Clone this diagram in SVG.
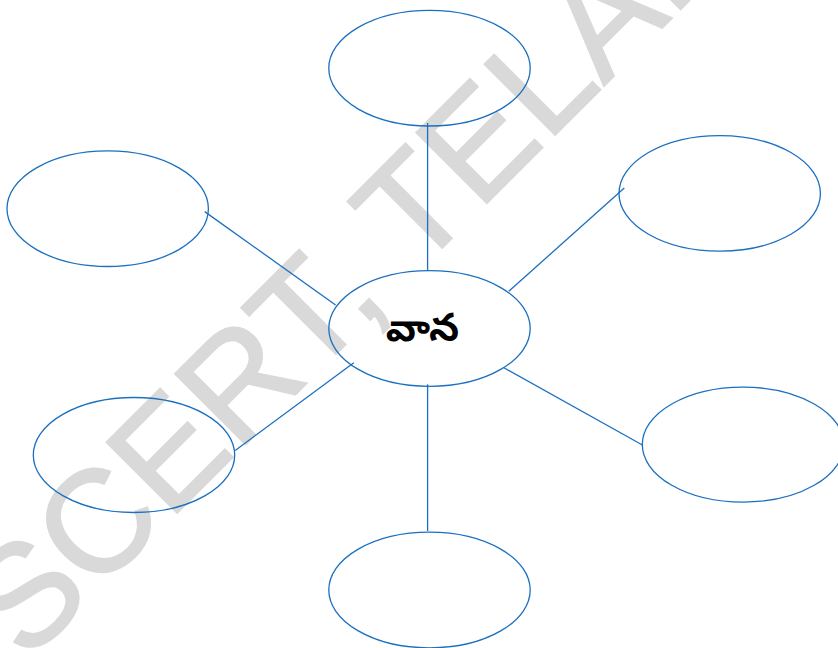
<svg xmlns="http://www.w3.org/2000/svg" width="838" height="648" viewBox="0 0 838 648">
<style>
.bg{fill:#ffffff}
.wm{font-family:"Liberation Sans",Arial,sans-serif;font-size:145px;fill:#d9d9d9;stroke:#d9d9d9;stroke-width:2}
.node ellipse{fill:none;stroke:#1b6fc0;stroke-width:1.3}
#connectors line{stroke:#1b6fc0;stroke-width:1.3}
.label{font-family:"Noto Sans Telugu","Noto Sans","Noto Sans CJK SC",sans-serif;font-size:39px;font-weight:bold;fill:#000;text-anchor:middle}
</style>
<rect class="bg" x="0" y="0" width="838" height="648"/>
<text class="wm" transform="translate(26.4,663.6) rotate(-45)" x="0" y="0">SCERT, TELANGANA</text>
<g id="connectors">
<line x1="427.6" y1="123" x2="427.6" y2="270.7"/>
<line x1="204.7" y1="211.6" x2="335.6" y2="305"/>
<line x1="624.3" y1="188" x2="508.8" y2="291.3"/>
<line x1="235.2" y1="450.4" x2="353.8" y2="362.8"/>
<line x1="504" y1="367.8" x2="642.4" y2="445"/>
<line x1="427.6" y1="384.3" x2="427.6" y2="531"/>
</g>
<g id="node-center" class="node">
<ellipse cx="429.5" cy="328.5" rx="100.7" ry="57.8"/>
<text class="label" x="422.5" y="341">వాన</text>
</g>
<g id="node-top" class="node"><ellipse cx="429.5" cy="68.2" rx="100.7" ry="57.8"/></g>
<g id="node-left-top" class="node"><ellipse cx="107.7" cy="208.7" rx="100.7" ry="57.8"/></g>
<g id="node-right-top" class="node"><ellipse cx="719.7" cy="193.4" rx="100.7" ry="57.8"/></g>
<g id="node-left-bottom" class="node"><ellipse cx="134" cy="455" rx="100.7" ry="57.5"/></g>
<g id="node-right-bottom" class="node"><ellipse cx="743" cy="444.6" rx="100.7" ry="57.5"/></g>
<g id="node-bottom" class="node"><ellipse cx="429.5" cy="590" rx="100.7" ry="57.8"/></g>
</svg>
